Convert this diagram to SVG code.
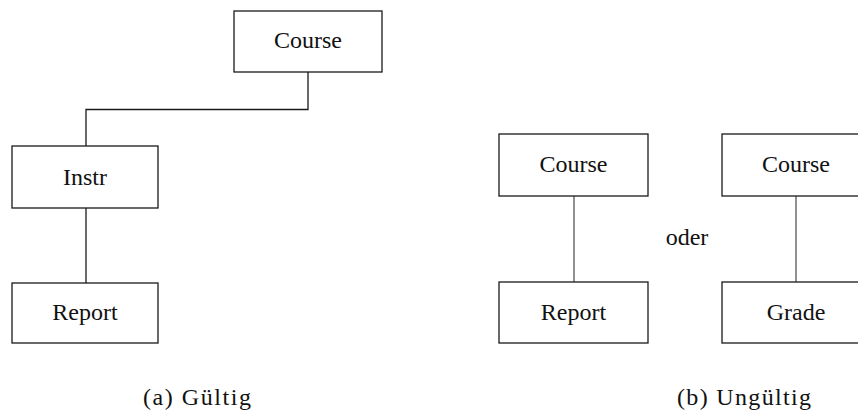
<svg xmlns="http://www.w3.org/2000/svg" width="858" height="416" viewBox="0 0 858 416">
  <style>
    .box { fill: #ffffff; stroke: #1a1a1a; stroke-width: 1.3; }
    .lbl { font-family: 'Liberation Serif', 'Times New Roman', serif; font-size: 24px; fill: #111111; text-anchor: middle; }
    .edge { fill: none; stroke: #1a1a1a; stroke-width: 1.3; }
    .edge-b { fill: none; stroke: #555555; stroke-width: 1.3; }
    .cap { font-family: 'Liberation Serif', 'Times New Roman', serif; font-size: 24px; fill: #111111; }
  </style>
  <rect width="858" height="416" fill="#ffffff"/>

  <!-- connectors -->
  <g id="connectors">
    <polyline class="edge" points="308,72 308,109.5 86,109.5 86,146"/>
    <line class="edge" x1="86" y1="208" x2="86" y2="283"/>
    <line class="edge-b" x1="574" y1="196" x2="574" y2="282"/>
    <line class="edge-b" x1="796" y1="196" x2="796" y2="282"/>
  </g>

  <!-- (a) valid -->
  <g id="a-course">
    <rect class="box" x="234" y="11" width="148" height="61"/>
    <text class="lbl" x="308" y="48">Course</text>
  </g>
  <g id="a-instr">
    <rect class="box" x="12" y="146" width="146" height="62"/>
    <text class="lbl" x="85" y="185">Instr</text>
  </g>
  <g id="a-report">
    <rect class="box" x="12" y="283" width="146" height="60"/>
    <text class="lbl" x="85" y="320">Report</text>
  </g>

  <!-- (b) invalid -->
  <g id="b-course-1">
    <rect class="box" x="499" y="134" width="149" height="62"/>
    <text class="lbl" x="573.5" y="172">Course</text>
  </g>
  <g id="b-report">
    <rect class="box" x="499" y="282" width="149" height="61"/>
    <text class="lbl" x="573.5" y="320">Report</text>
  </g>
  <g id="b-course-2">
    <rect class="box" x="722" y="134" width="149" height="62"/>
    <text class="lbl" x="796" y="172">Course</text>
  </g>
  <g id="b-grade">
    <rect class="box" x="722" y="282" width="149" height="61"/>
    <text class="lbl" x="796" y="320">Grade</text>
  </g>
  <text class="lbl" x="687" y="245">oder</text>

  <!-- captions -->
  <text class="cap" x="143" y="405" textLength="108" lengthAdjust="spacing">(a) Gültig</text>
  <text class="cap" x="677" y="405" textLength="134" lengthAdjust="spacing">(b) Ungültig</text>
</svg>
